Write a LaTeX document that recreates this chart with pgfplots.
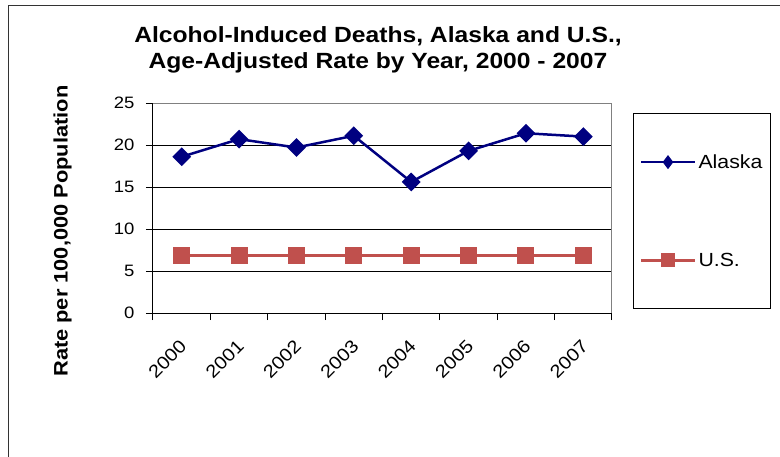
\documentclass[border=0pt]{standalone}
\usepackage{fontspec}
\setmainfont{Liberation Sans}[FakeStretch=1.12]
\usepackage{pgfplots}
\pgfplotsset{compat=1.18}
\definecolor{akblue}{HTML}{000080}
\definecolor{usred}{HTML}{C0504D}
\definecolor{frame}{HTML}{808080}

\begin{document}
\begin{tikzpicture}
\path[use as bounding box] (0pt,0pt) rectangle (780pt,456pt);
% outer chart frame (cut off at right and bottom)
\draw[black!80, line width=1pt] (8pt,-20pt) -- (8pt,450pt) -- (800pt,450pt);
\node[align=center, font=\fontsize{22}{26}\selectfont\bfseries] at (378pt,406pt)
  {Alcohol-Induced Deaths, Alaska and U.S.,\\Age-Adjusted Rate by Year, 2000 - 2007};
\begin{axis}[
    at={(153pt,143pt)}, anchor=south west,
    scale only axis, width=459pt, height=210pt,
    xmin=-0.5, xmax=7.5, ymin=0, ymax=25,
    axis lines=left,
    axis line style={-, black, line width=1pt},
    tick align=outside,
    major tick length=7pt, minor tick length=7pt,
    tick style={black, line width=1pt},
    /pgf/number format/assume math mode=true,
    xtick={0,...,7},
    xticklabels={2000,2001,2002,2003,2004,2005,2006,2007},
    major x tick style={draw=none},
    minor xtick={-0.5,0.5,...,7.5},
    ytick={0,5,...,25},
    ymajorgrids=true,
    grid style={black, line width=1pt},
    yticklabel style={font=\fontsize{16.5}{18}\selectfont, xshift=-8pt},
    xticklabel style={font=\fontsize{18}{20}\selectfont, xshift=-3pt, yshift=-14pt, rotate=45, anchor=north east},
    ylabel={Rate per 100,000 Population},
    ylabel style={font=\fontsize{19.5}{22}\selectfont\bfseries, at={(rel axis cs:-0.197,0.39)}, anchor=center},
    legend image code/.code={\draw[mark repeat=2,mark phase=2,#1] plot coordinates {(0pt,0pt) (27pt,0pt) (54pt,0pt)};},
    legend style={draw=black, line width=0.8pt, at={(1.046,0.952)}, anchor=north west,
        font=\fontsize{19}{21}\selectfont, row sep=79pt, inner xsep=6pt, inner ysep=39pt},
    legend cell align=left,
]
\addplot[akblue, line width=2.5pt, mark=square*, mark size=5.4pt, mark options={rotate=45},
    legend image post style={mark=diamond*, mark size=5pt, mark options={rotate=0}}]
    coordinates {(0,18.6) (1,20.7) (2,19.7) (3,21.1) (4,15.6) (5,19.3) (6,21.4) (7,21.0)};
\addlegendentry{Alaska}
\addplot[usred, line width=3pt, mark=square*, mark size=7pt,
    legend image post style={mark size=5.5pt}]
    coordinates {(0,6.9) (1,6.9) (2,6.9) (3,6.9) (4,6.9) (5,6.9) (6,6.9) (7,6.9)};
\addlegendentry{U.S.}
\draw[frame, line width=1pt] (rel axis cs:0,1) -- (rel axis cs:1,1) -- (rel axis cs:1,0);
\end{axis}
\end{tikzpicture}
\end{document}
